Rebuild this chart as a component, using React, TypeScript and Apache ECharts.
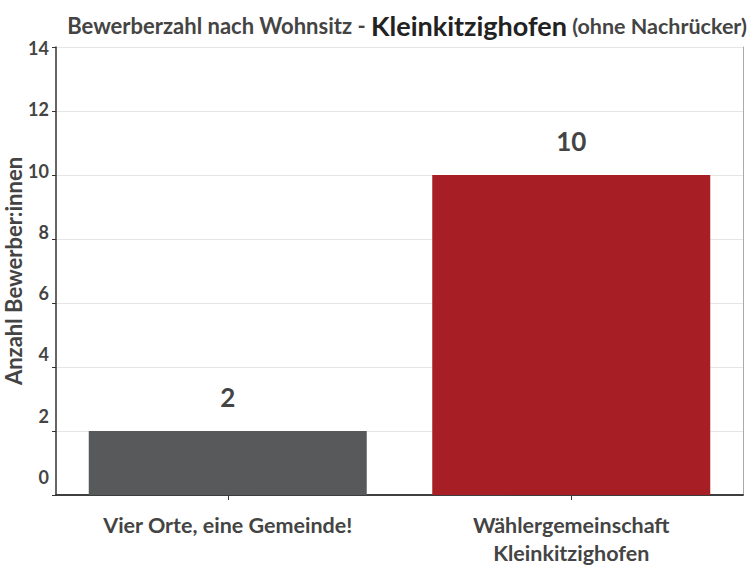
import React, { useEffect, useRef } from "react";
import * as echarts from "echarts";

const categories = ["Vier Orte, eine Gemeinde!", "Wählergemeinschaft\nKleinkitzighofen"];
const values = [2, 10];
const barColors = ["#58595b", "#a71e24"];
const yMin = 0;
const yMax = 14;
const yInterval = 2;

const FONT = "Lato";

export default function App() {
  const ref = useRef<HTMLDivElement>(null);
  useEffect(() => {
    const chart = echarts.init(ref.current!, null, { renderer: "svg" });
    chart.setOption({
      animation: false,
      backgroundColor: "#ffffff",
      textStyle: { fontFamily: FONT },
      title: {
        text: "{a|Bewerberzahl nach Wohnsitz - }{b|Kleinkitzighofen}{c| (ohne Nachrücker)}",
        left: 402,
        textAlign: "center",
        top: 7,
        textStyle: {
          rich: {
            a: { fontFamily: FONT, fontWeight: "bold", fontSize: 22, color: "#444444" },
            b: { fontFamily: FONT, fontWeight: "bold", fontSize: 27, color: "#222222" },
            c: { fontFamily: FONT, fontWeight: "bold", fontSize: 21.5, color: "#444444" },
          },
        },
      },
      grid: [
        { left: 56, right: 11, top: 47, bottom: 72, outerBoundsMode: "none", containLabel: false },
        { left: 56, right: 11, top: 48, bottom: 90, outerBoundsMode: "none", containLabel: false },
      ],
      xAxis: [
        {
          type: "category",
          gridIndex: 0,
          data: categories,
          axisLine: { lineStyle: { color: "#333333", width: 1.5 } },
          axisTick: { show: true, alignWithLabel: true, length: 5, lineStyle: { color: "#333333" } },
          axisLabel: {
            fontFamily: FONT,
            fontWeight: "bold",
            fontSize: 21.5,
            color: "#444444",
            margin: 16,
            lineHeight: 28,
          },
        },
        {
          type: "category",
          gridIndex: 0,
          position: "top",
          data: categories,
          axisLine: { show: true, lineStyle: { color: "#333333", width: 1.5 } },
          axisTick: { show: false },
          axisLabel: { show: false },
        },
        {
          type: "category",
          gridIndex: 1,
          data: categories,
          show: false,
        },
      ],
      yAxis: [
        {
          type: "value",
          gridIndex: 0,
          min: yMin,
          max: yMax,
          interval: yInterval,
          name: "Anzahl Bewerber:innen",
          nameLocation: "middle",
          nameGap: 32,
          nameTextStyle: { fontFamily: FONT, fontWeight: "bold", fontSize: 22, lineHeight: 22, color: "#444444" },
          axisLine: { show: true, lineStyle: { color: "#333333", width: 1.5 } },
          axisTick: { show: true, length: 4, lineStyle: { color: "#333333" } },
          axisLabel: { show: false },
          splitLine: { show: true, lineStyle: { color: "#e6e6e6", width: 1 } },
        },
        {
          type: "value",
          gridIndex: 0,
          position: "right",
          min: yMin,
          max: yMax,
          interval: yInterval,
          axisLine: { show: true, lineStyle: { color: "#aaaaaa", width: 1 } },
          axisTick: { show: false },
          axisLabel: { show: false },
          splitLine: { show: false },
        },
        {
          type: "value",
          gridIndex: 1,
          min: yMin,
          max: yMax,
          interval: yInterval,
          axisLine: { show: false },
          axisTick: { show: false },
          splitLine: { show: false },
          axisLabel: {
            fontFamily: FONT,
            fontWeight: "bold",
            fontSize: 18,
            color: "#444444",
            margin: 7,
          },
        },
      ],
      series: [
        {
          type: "bar",
          xAxisIndex: 0,
          yAxisIndex: 0,
          barWidth: 278,
          data: values.map((v, i) => ({ value: v, itemStyle: { color: barColors[i] } })),
          label: {
            show: true,
            position: "top",
            distance: 21,
            fontFamily: FONT,
            fontWeight: "bold",
            fontSize: 26,
            color: "#444444",
          },
        },
      ],
    });
    return () => chart.dispose();
  }, []);
  return (
    <div
      ref={ref}
      style={{ position: "fixed", left: 0, top: 0, width: 754, height: 567 }}
    />
  );
}
